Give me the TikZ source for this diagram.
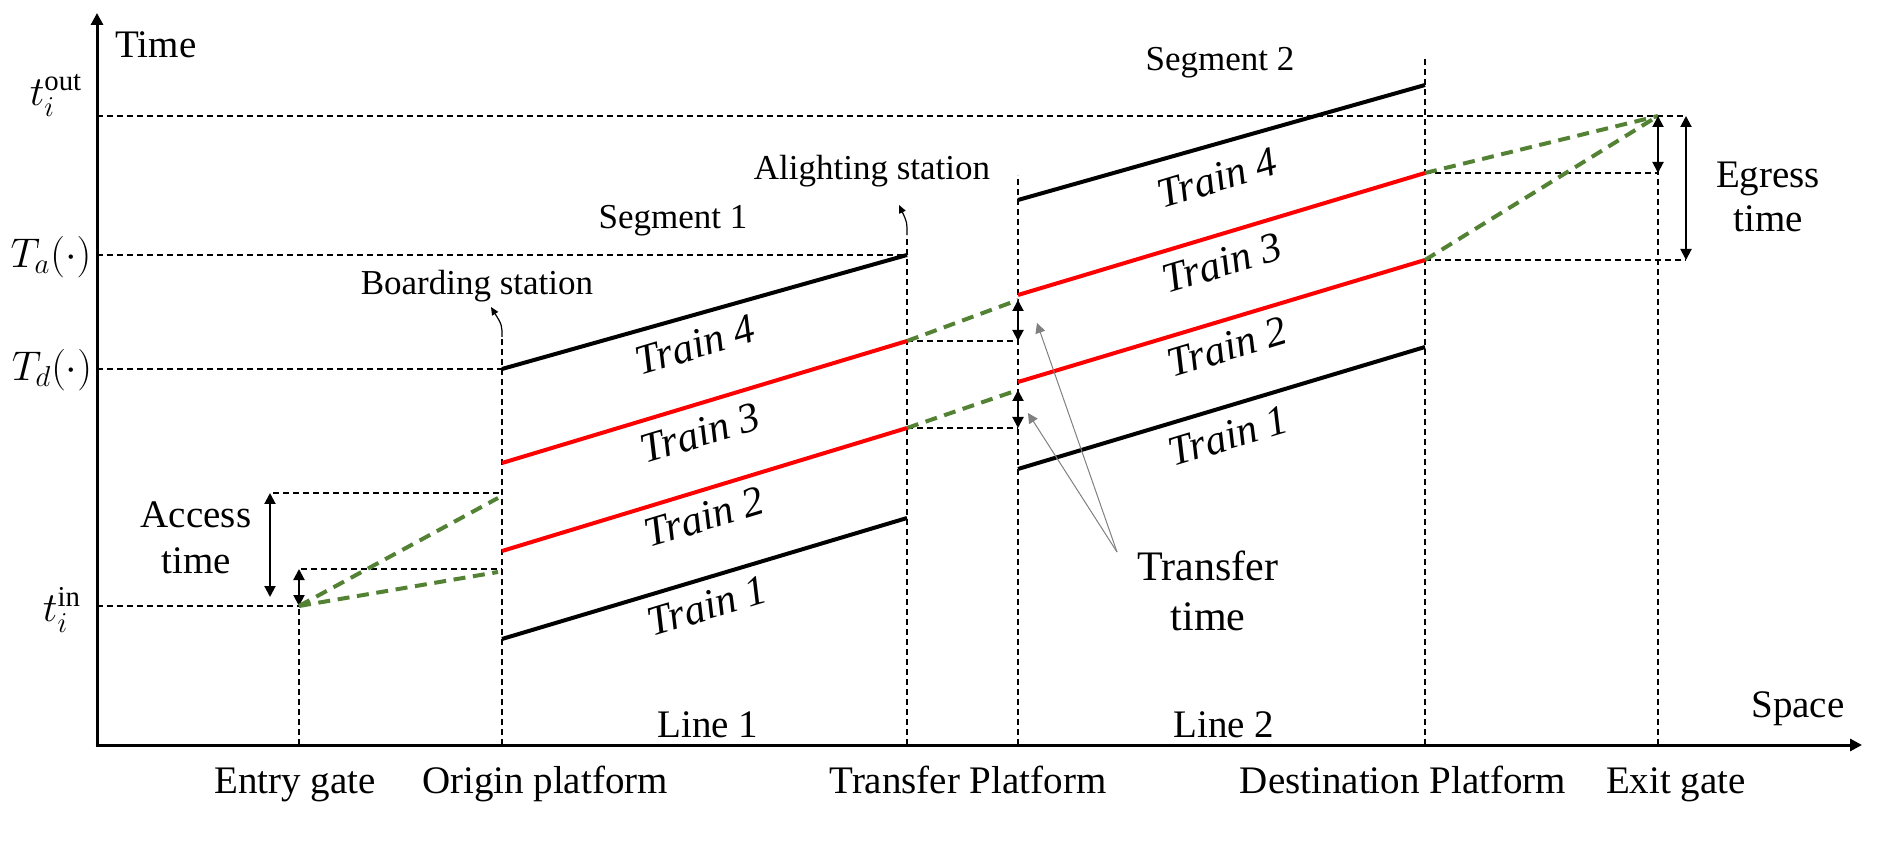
\RequirePackage{fix-cm}
\documentclass[tikz,border=0pt]{standalone}
\usepackage{amsmath}
\usepackage{fontspec}
\setmainfont{Liberation Serif}
\usetikzlibrary{arrows.meta}
\definecolor{egreen}{HTML}{548235}
\definecolor{tgray}{HTML}{808080}
\begin{document}
\begin{tikzpicture}[x=0.5pt,y=-0.5pt,
  axis/.style={line width=1.5pt,-{Triangle[length=6pt,width=6pt]}},
  guide/.style={line width=0.85pt,dash pattern=on 3pt off 2pt},
  train/.style={line width=2pt},
  walk/.style={line width=2pt,egreen,dash pattern=on 6pt off 3.8pt},
  dimarrow/.style={line width=1pt,{Triangle[length=5.5pt,width=5.5pt]}-{Triangle[length=5.5pt,width=5.5pt]}},
  pointer/.style={line width=0.5pt,tgray,-{Triangle[length=5pt,width=5pt]}},
  callout/.style={line width=0.6pt,-{Triangle[length=4pt,width=3.5pt]}},
  lbl/.style={font=\fontsize{19.5}{23}\selectfont,anchor=base,inner sep=0pt},
  biglbl/.style={font=\fontsize{21}{25}\selectfont,anchor=base,inner sep=0pt},
  small/.style={font=\fontsize{17.5}{21}\selectfont,anchor=base,inner sep=0pt},
  tlabel/.style={font=\fontsize{21}{25}\selectfont\itshape,rotate=16.8,inner sep=0pt},
  mlabel/.style={font=\fontsize{20.74}{24}\selectfont,inner sep=0pt}
]
\useasboundingbox (0,0) rectangle (1885,844);

% ---- axes
\coordinate (O) at (97,745);
\coordinate (Ytop) at (97,13);
\coordinate (Xend) at (1862,745);
\draw[axis] (O) -- (Ytop);
\draw[axis] ([xshift=-0.75pt]O) -- (Xend);

% ---- station verticals
\coordinate (eg) at (299,745);  \coordinate (egT) at (299,606);
\coordinate (op) at (502,745);  \coordinate (opT) at (502,337);
\coordinate (tpa) at (907,745); \coordinate (tpaT) at (907,235);
\coordinate (tpb) at (1018,745);\coordinate (tpbT) at (1018,175);
\coordinate (dp) at (1425,745); \coordinate (dpT) at (1425,57);
\coordinate (xg) at (1658,745); \coordinate (xgT) at (1658,116);
\draw[guide] (eg) -- (egT);
\draw[guide] (op) -- (opT);
\draw[guide] (tpa) -- (tpaT);
\draw[guide] (tpb) -- (tpbT);
\draw[guide] (dp) -- (dpT);
\draw[guide] (xg) -- (xgT);

% ---- horizontal guides from time axis
\coordinate (yout) at (97,116);  \coordinate (youtE) at (1686,116);
\coordinate (ya) at (97,255);    \coordinate (yaE) at (907,255);
\coordinate (yd) at (97,369);    \coordinate (ydE) at (502,369);
\coordinate (yin) at (97,606);
\draw[guide] (yout) -- (youtE);
\draw[guide] (ya) -- (yaE);
\draw[guide] (yd) -- (ydE);
\draw[guide] (yin) -- (egT);

% ---- train lines, line 1
\coordinate (a1s) at (502,639); \coordinate (a1e) at (907,518);
\coordinate (a2s) at (502,551); \coordinate (a2e) at (907,428);
\coordinate (a3s) at (502,463); \coordinate (a3e) at (907,341);
\coordinate (a4s) at (502,369); \coordinate (a4e) at (907,255);
\draw[train] (a1s) -- (a1e);
\draw[train,red] (a2s) -- (a2e);
\draw[train,red] (a3s) -- (a3e);
\draw[train] (a4s) -- (a4e);

% ---- train lines, line 2
\coordinate (b1s) at (1018,469); \coordinate (b1e) at (1425,347);
\coordinate (b2s) at (1018,382); \coordinate (b2e) at (1425,260);
\coordinate (b3s) at (1018,295); \coordinate (b3e) at (1425,173);
\coordinate (b4s) at (1018,200); \coordinate (b4e) at (1425,85);
\draw[train] (b1s) -- (b1e);
\draw[train,red] (b2s) -- (b2e);
\draw[train,red] (b3s) -- (b3e);
\draw[train] (b4s) -- (b4e);

% ---- train labels
\node[tlabel] (la4) at (695,345) {Train 4};
\node[tlabel] (la3) at (700,433) {Train 3};
\node[tlabel] (la2) at (704,517) {Train 2};
\node[tlabel] (la1) at (707,606) {Train 1};
\node[tlabel] (lb4) at (1217,178) {Train 4};
\node[tlabel] (lb3) at (1222,263) {Train 3};
\node[tlabel] (lb2) at (1227,347) {Train 2};
\node[tlabel] (lb1) at (1228,436) {Train 1};

% ---- access
\coordinate (acU) at (270,493); \coordinate (acUE) at (502,493);
\coordinate (acL) at (299,569); \coordinate (acLE) at (502,569);
\coordinate (acB) at (270,597);
\draw[guide] ([xshift=1.5pt]acU) -- (acUE);
\draw[guide] ([xshift=1pt]acL) -- (acLE);
\draw[dimarrow] (acU) -- (acB);
\draw[dimarrow] (acL) -- (egT);
\coordinate (gA1) at (498,498);
\coordinate (gA2) at (498,572);
\draw[walk] (egT) -- (gA1);
\draw[walk] (egT) -- (gA2);

% ---- transfer
\coordinate (trU) at (1018,300);
\coordinate (trUb) at (1018,341);
\coordinate (trL) at (1018,390);
\coordinate (trLb) at (1018,428);
\draw[guide] (a3e) -- (trUb);
\draw[guide] (a2e) -- (trLb);
\draw[walk] (a3e) -- (trU);
\draw[walk] (a2e) -- (trL);
\draw[dimarrow] (trU) -- (trUb);
\draw[dimarrow] (trL) -- (trLb);

% ---- egress
\coordinate (egM) at (1658,173);
\coordinate (egB) at (1686,260);
\coordinate (egTop) at (1686,116);
\draw[guide] (b3e) -- (egM);
\draw[guide] (b2e) -- (egB);
\draw[walk] (b3e) -- (xgT);
\draw[walk] (b2e) -- (xgT);
\draw[dimarrow] (xgT) -- (egM);
\draw[dimarrow] (egTop) -- (egB);

% ---- station callouts
\coordinate (bsTip) at (491,307);
\coordinate (asTip) at (899,205);
\draw[callout] (opT) .. controls (502,325) .. (bsTip);
\draw[callout] (tpaT) .. controls (907,222) .. (asTip);

% ---- transfer pointers
\coordinate (tfO) at (1117,552);
\coordinate (tfP1) at (1037,323);
\coordinate (tfP2) at (1028,413);
\draw[pointer] (tfO) -- (tfP1);
\draw[pointer] (tfO) -- (tfP2);

% ---- text labels
\node[lbl] (time) at (156,58) {Time};
\node[lbl] (space) at (1798,717) {Space};
\node[mlabel] (tout) at (56,95) {$t_i^{\mathrm{out}}$};
\node[mlabel] (Ta) at (51,257) {$T_a(\cdot)$};
\node[mlabel] (Td) at (52,370) {$T_d(\cdot)$};
\node[mlabel] (tin) at (62,610) {$t_i^{\mathrm{in}}$};

\node[lbl] (acc1) at (196,528) {Access};
\node[lbl] (acc2) at (196,573) {time};
\node[lbl] (egr1) at (1768,188) {Egress};
\node[lbl] (egr2) at (1768,232) {time};
\node[biglbl] (tra1) at (1208,580) {Transfer};
\node[biglbl] (tra2) at (1208,630) {time};

\node[small] (board) at (477,295) {Boarding station};
\node[small] (seg1) at (673,229) {Segment 1};
\node[small] (alight) at (872,180) {Alighting station};
\node[small] (seg2) at (1220,71) {Segment 2};

\node[lbl] (line1) at (708,737) {Line 1};
\node[lbl] (line2) at (1224,737) {Line 2};

\node[lbl] (entry) at (295,793) {Entry gate};
\node[lbl] (origin) at (545,793) {Origin platform};
\node[lbl] (transf) at (968,793) {Transfer Platform};
\node[lbl] (dest) at (1403,793) {Destination Platform};
\node[lbl] (exit) at (1676,793) {Exit gate};
\end{tikzpicture}
\end{document}
